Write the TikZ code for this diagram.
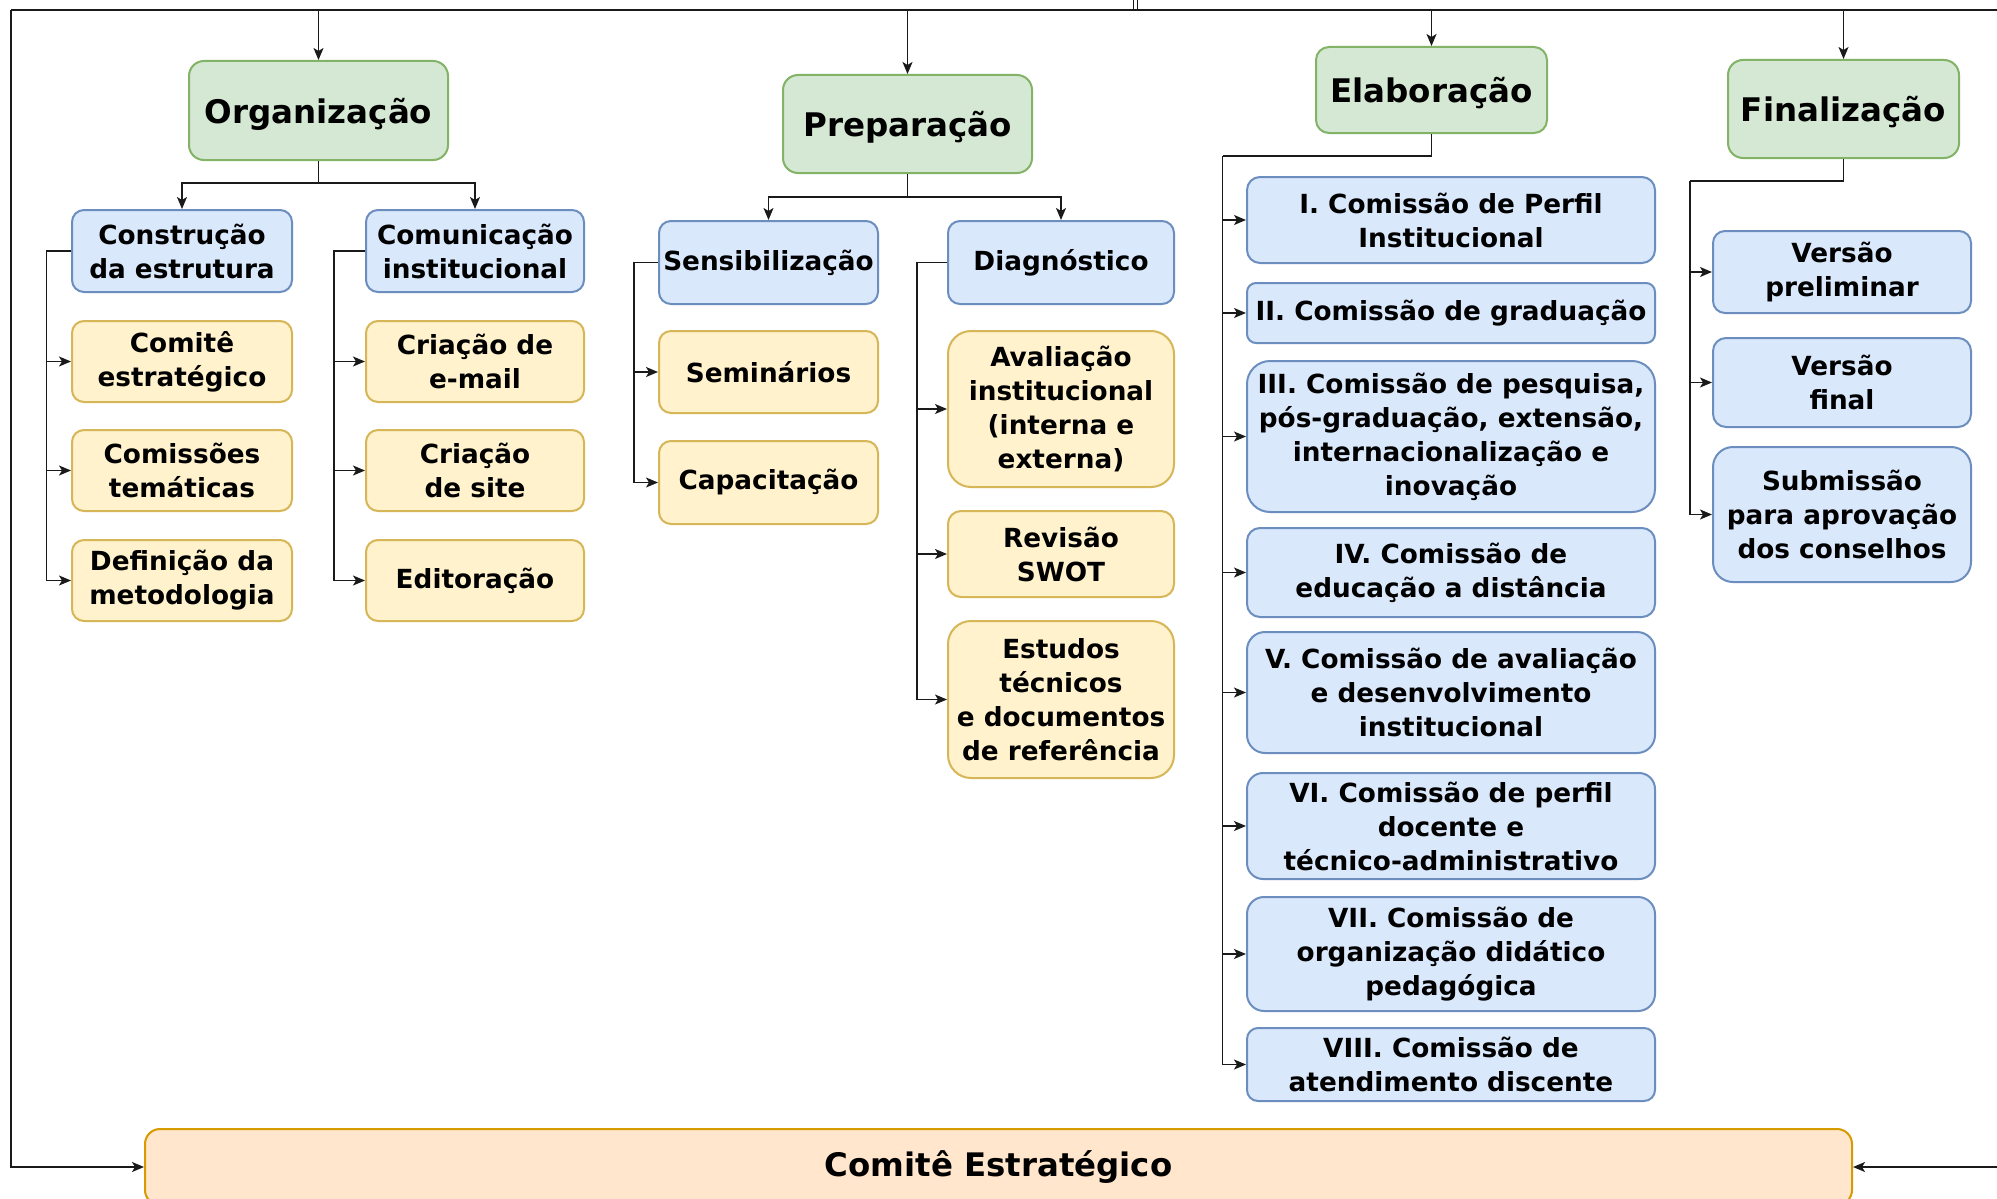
\documentclass[tikz,border=0pt]{standalone}
\usepackage{fontspec}
\setmainfont{DejaVu Sans}
\usetikzlibrary{arrows.meta}
\definecolor{gfill}{HTML}{D5E8D4}\definecolor{gdraw}{HTML}{82B366}
\definecolor{bfill}{HTML}{DAE8FC}\definecolor{bdraw}{HTML}{6C8EBF}
\definecolor{yfill}{HTML}{FFF2CC}\definecolor{ydraw}{HTML}{D6B656}
\definecolor{ofill}{HTML}{FFE6CC}\definecolor{odraw}{HTML}{D79B00}
\definecolor{linec}{HTML}{1A1A1A}
\begin{document}
\begin{tikzpicture}[x=1pt,y=-1pt,
  box/.style={draw, line width=2pt, inner sep=0pt, align=center, font=\fontsize{26.3}{34}\selectfont\bfseries},
  phase/.style={box, fill=gfill, draw=gdraw, text depth=0pt, font=\fontsize{32.5}{38}\selectfont\bfseries},
  bluebox/.style={box, fill=bfill, draw=bdraw},
  yellowbox/.style={box, fill=yfill, draw=ydraw},
  orangebox/.style={box, fill=ofill, draw=odraw, font=\fontsize{32.4}{38}\selectfont\bfseries},
  conn/.style={draw=linec, line width=1.5pt},
  arr/.style={conn, -{Stealth[length=12pt,width=10pt,inset=3pt]}},
  sz/.style n args={3}{minimum width=#1pt, minimum height=#2pt, rounded corners=#3pt}
]
\fill[white] (0,0) rectangle (1997,1199);
\useasboundingbox (0,0) rectangle (1997,1199);

% phases
\node[phase, sz={259}{99}{15}] (org) at (318.5,110.5) {Organização};
\node[phase, sz={249}{98}{15}] (prep) at (907.5,124) {Preparação};
\node[phase, sz={231}{86}{13}] (elab) at (1431.5,90) {Elaboração};
\node[phase, sz={231}{98}{15}] (fin) at (1843.5,109) {Finalização};

% organizacao
\node[bluebox, sz={220}{82}{12}] (cons) at (182,251) {Construção\\da estrutura};
\node[bluebox, sz={218}{82}{12}] (comu) at (475,251) {Comunicação\\institucional};
\node[yellowbox, sz={220}{81}{12}] (cest) at (182,361.5) {Comitê\\estratégico};
\node[yellowbox, sz={220}{81}{12}] (ctem) at (182,470.5) {Comissões\\temáticas};
\node[yellowbox, sz={220}{81}{12}] (dmet) at (182,580.5) {Definição da\\metodologia};
\node[yellowbox, sz={218}{81}{12}] (email) at (475,361.5) {Criação de\\e-mail};
\node[yellowbox, sz={218}{81}{12}] (site) at (475,470.5) {Criação\\de site};
\node[yellowbox, sz={218}{81}{12}] (edit) at (475,580.5) {Editoração};

% preparacao
\node[bluebox, sz={219}{83}{12}] (sens) at (768.5,262.5) {Sensibilização};
\node[bluebox, sz={226}{83}{12}] (diag) at (1061,262.5) {Diagnóstico};
\node[yellowbox, sz={219}{82}{12}] (sem) at (768.5,372) {Seminários};
\node[yellowbox, sz={219}{83}{12}] (cap) at (768.5,482.5) {Capacitação};
\node[yellowbox, sz={226}{156}{23}] (aval) at (1061,409) {Avaliação\\institucional\\(interna e\\externa)};
\node[yellowbox, sz={226}{86}{13}] (swot) at (1061,554) {Revisão\\SWOT};
\node[yellowbox, sz={226}{157}{23}] (est) at (1061,699.5) {Estudos\\técnicos\\e documentos\\de referência};

% elaboracao
\node[bluebox, sz={408}{86}{13}] (e1) at (1451,220) {I. Comissão de Perfil\\Institucional};
\node[bluebox, sz={408}{60}{9}] (e2) at (1451,313) {II. Comissão de graduação};
\node[bluebox, sz={408}{151}{23}] (e3) at (1451,436.5) {III. Comissão de pesquisa,\\pós-graduação, extensão,\\internacionalização e\\inovação};
\node[bluebox, sz={408}{89}{13}] (e4) at (1451,572.5) {IV. Comissão de\\educação a distância};
\node[bluebox, sz={408}{121}{18}] (e5) at (1451,692.5) {V. Comissão de avaliação\\e desenvolvimento\\institucional};
\node[bluebox, sz={408}{106}{16}] (e6) at (1451,826) {VI. Comissão de perfil\\docente e\\técnico-administrativo};
\node[bluebox, sz={408}{114}{17}] (e7) at (1451,954) {VII. Comissão de\\organização didático\\pedagógica};
\node[bluebox, sz={408}{73}{11}] (e8) at (1451,1064.5) {VIII. Comissão de\\atendimento discente};

% finalizacao
\node[bluebox, sz={258}{82}{12}] (v1) at (1842,272) {Versão\\preliminar};
\node[bluebox, sz={258}{89}{13}] (v2) at (1842,382.5) {Versão\\final};
\node[bluebox, sz={258}{135}{20}] (v3) at (1842,514.5) {Submissão\\para aprovação\\dos conselhos};

% comite
\node[orangebox, sz={1707}{76}{15}] (ce) at (998.5,1167) {Comitê Estratégico};

% bus
\coordinate (tl) at (11,10);
\coordinate (tr) at (1997,10);
\coordinate (br) at (1997,1167);
\coordinate (d1) at (1133.5,0);
\coordinate (d2) at (1137.5,0);
\draw[conn] (tr) -- (tl);
\draw[arr] (tl) |- (ce.west);
\draw[arr] (br) -- (ce.east);
\draw[conn, line width=1.2pt] (d1) -- (d1 |- tl);
\draw[conn, line width=1.2pt] (d2) -- (d2 |- tl);
\foreach \n in {org,prep,elab,fin} \draw[arr] (\n.north |- tl) -- (\n.north);

% splits
\coordinate (os) at (318.5,183);
\draw[conn] (org.south) -- (os);
\draw[arr] (os) -| (cons.north);
\draw[arr] (os) -| (comu.north);
\coordinate (ps) at (907.5,197);
\draw[conn] (prep.south) -- (ps);
\draw[arr] (ps) -| (sens.north);
\draw[arr] (ps) -| (diag.north);

% stems
\foreach \k in {cest,ctem,dmet} \draw[arr] (cons.west) -- ++(-24.5,0) |- (\k.west);
\foreach \k in {email,site,edit} \draw[arr] (comu.west) -- ++(-31,0) |- (\k.west);
\foreach \k in {sem,cap} \draw[arr] (sens.west) -- ++(-24,0) |- (\k.west);
\foreach \k in {aval,swot,est} \draw[arr] (diag.west) -- ++(-30,0) |- (\k.west);

\coordinate (es) at (1222.5,156);
\draw[conn] (elab.south) |- (es);
\foreach \k in {e1,e2,e3,e4,e5,e6,e7,e8} \draw[arr] (es) |- (\k.west);
\coordinate (fs) at (1690,181);
\draw[conn] (fin.south) |- (fs);
\foreach \k in {v1,v2,v3} \draw[arr] (fs) |- (\k.west);
\end{tikzpicture}
\end{document}
